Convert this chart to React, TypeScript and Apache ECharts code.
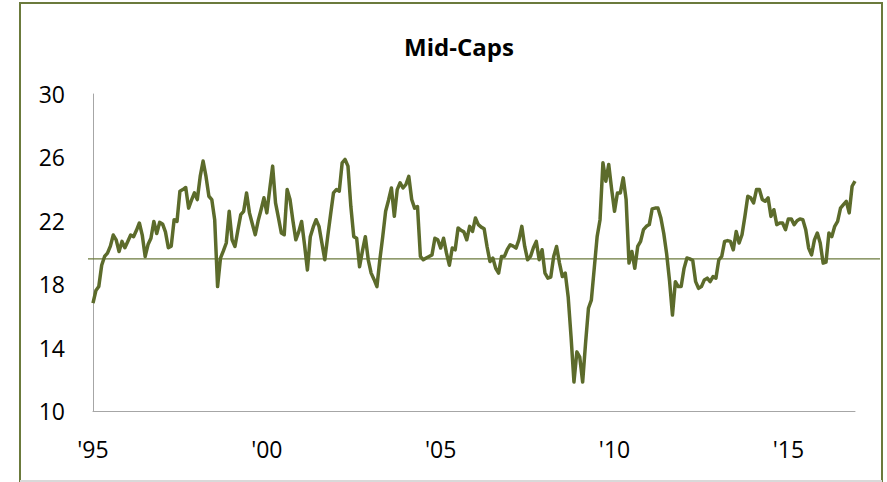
import React, { useEffect, useRef } from "react";
import * as echarts from "echarts";

// Monthly values, Jan 1995 .. Dec 2016
const values: number[] = [
  16.8, 17.6, 17.85, 19.2, 19.75, 19.96, 20.4, 21.1, 20.8, 20.06, 20.7, 20.3,
  20.7, 21.1, 21.0, 21.4, 21.86, 21.1, 19.75, 20.5, 20.9, 21.96, 21.2, 21.9,
  21.8, 21.3, 20.3, 20.4, 22.07, 21.96, 23.87, 23.97, 24.1, 22.8, 23.3, 23.76,
  23.34, 24.8, 25.77, 24.8, 23.55, 23.34, 22.07, 17.85, 19.65, 20.1, 20.6, 22.6,
  20.8, 20.38, 21.4, 22.39, 22.6, 23.76, 22.5, 21.8, 21.12, 22.0, 22.7, 23.45,
  22.5, 24.0, 25.45, 23.13, 22.2, 21.23, 21.12, 23.97, 23.34, 22.0, 20.8, 21.3,
  21.96, 20.5, 18.9, 21.0, 21.6, 22.07, 21.65, 20.6, 19.54, 21.0, 22.4, 23.76,
  23.97, 23.87, 25.66, 25.87, 25.45, 22.9, 21.0, 20.9, 19.1, 20.1, 21.0, 19.54,
  18.7, 18.3, 17.85, 19.54, 21.0, 22.6, 23.3, 24.07, 22.28, 23.97, 24.4, 24.07,
  24.29, 24.8, 23.34, 22.8, 22.9, 19.75, 19.54, 19.65, 19.75, 19.85, 20.9, 20.8,
  20.28, 20.9, 19.96, 19.2, 20.28, 20.17, 21.55, 21.4, 21.3, 20.8, 21.65, 21.33,
  22.18, 21.76, 21.6, 21.5, 20.38, 19.43, 19.65, 19.0, 18.7, 19.75, 19.75, 20.2,
  20.49, 20.4, 20.28, 20.8, 21.65, 20.38, 19.54, 19.75, 20.3, 20.7, 19.54, 20.17,
  18.7, 18.38, 18.45, 19.75, 20.38, 19.33, 18.48, 18.7, 17.21, 14.68, 11.83, 13.73,
  13.4, 11.83, 14.26, 16.48, 17.0, 19.0, 21.0, 22.07, 25.66, 24.5, 25.55, 24.0,
  22.6, 23.76, 23.76, 24.71, 23.34, 19.33, 20.06, 19.0, 20.38, 20.7, 21.44, 21.65,
  21.76, 22.75, 22.8, 22.8, 22.18, 21.2, 19.9, 18.2, 16.05, 18.16, 17.85, 17.85,
  19.0, 19.65, 19.6, 19.5, 18.16, 17.74, 17.85, 18.27, 18.38, 18.16, 18.48, 18.38,
  19.54, 19.75, 20.7, 20.75, 20.7, 20.17, 21.33, 20.6, 21.12, 22.28, 23.55, 23.45,
  23.13, 23.97, 23.97, 23.34, 23.23, 23.45, 22.28, 22.7, 21.76, 21.86, 21.86, 21.44,
  22.12, 22.12, 21.76, 22.0, 22.12, 22.07, 21.44, 20.28, 19.85, 20.8, 21.23, 20.6,
  19.33, 19.4, 21.23, 21.0, 21.65, 21.96, 22.8, 23.02, 23.23, 22.5, 24.18, 24.5,
];

const startYear = 1995;
const categories: string[] = values.map((_, i) => {
  const y = startYear + Math.floor(i / 12);
  const m = (i % 12) + 1;
  return `${y}-${m < 10 ? "0" + m : m}`;
});
const tickLabels: string[] = ["'95", "'00", "'05", "'10", "'15"];
const average = 19.6;
const yTicks = { min: 10, max: 30, interval: 4 };

const OLIVE = "#5c6b2b";
const FONT = "'Open Sans', 'Noto Sans', sans-serif";

export default function App() {
  const ref = useRef<HTMLDivElement>(null);
  useEffect(() => {
    document.body.style.margin = "0";
    const chart = echarts.init(ref.current!, null, { renderer: "svg" });
    chart.setOption({
      animation: false,
      backgroundColor: "#ffffff",
      title: {
        text: "Mid-Caps",
        left: 454,
        top: 29,
        textAlign: "center",
        textStyle: { fontFamily: FONT, fontSize: 24, fontWeight: "bold", color: "#000" },
      },
      graphic: [
        {
          type: "rect",
          shape: { x: 20, y: 3, width: 862, height: 478 },
          style: { fill: "none", stroke: "#6b7a3c", lineWidth: 2 },
          silent: true,
        },
        {
          type: "line",
          shape: { x1: 20, y1: 481, x2: 882, y2: 481 },
          style: { stroke: "#d9d9d9", lineWidth: 2 },
          silent: true,
        },
      ],
      grid: [
        { left: 93, right: 32, top: 94, bottom: 71, containLabel: false },
        { left: 88, right: 7, top: 94, bottom: 71, containLabel: false },
      ],
      xAxis: [
        {
          type: "category",
          gridIndex: 0,
          data: categories,
          boundaryGap: false,
          axisLine: { lineStyle: { color: "#a6a6a6", width: 1 } },
          axisTick: { show: false },
          splitLine: { show: false },
          axisLabel: {
            interval: (index: number) => index % 60 === 0,
            formatter: (_v: string, index: number) => tickLabels[index / 60] ?? "",
            fontFamily: FONT,
            fontSize: 23,
            color: "#000",
            margin: 26,
          },
        },
        { type: "value", gridIndex: 1, min: 0, max: 1, show: false },
      ],
      yAxis: [
        {
          type: "value",
          gridIndex: 0,
          min: yTicks.min,
          max: yTicks.max,
          interval: yTicks.interval,
          axisLine: { show: true, lineStyle: { color: "#a6a6a6", width: 1 } },
          axisTick: { show: false },
          splitLine: { show: false },
          axisLabel: { fontFamily: FONT, fontSize: 23, color: "#000", margin: 28 },
        },
        { type: "value", gridIndex: 1, min: yTicks.min, max: yTicks.max, show: false },
      ],
      series: [
        {
          type: "line",
          xAxisIndex: 1,
          yAxisIndex: 1,
          data: [
            [0, average],
            [1, average],
          ],
          symbol: "none",
          lineStyle: { color: "#6b7a3c", width: 1.2 },
          silent: true,
          z: 1,
        },
        {
          type: "line",
          xAxisIndex: 0,
          yAxisIndex: 0,
          data: values,
          symbol: "none",
          lineStyle: { color: OLIVE, width: 3.5, join: "round" },
          z: 3,
        },
      ],
    });
    return () => chart.dispose();
  }, []);
  return <div ref={ref} style={{ width: 887, height: 482 }} />;
}
